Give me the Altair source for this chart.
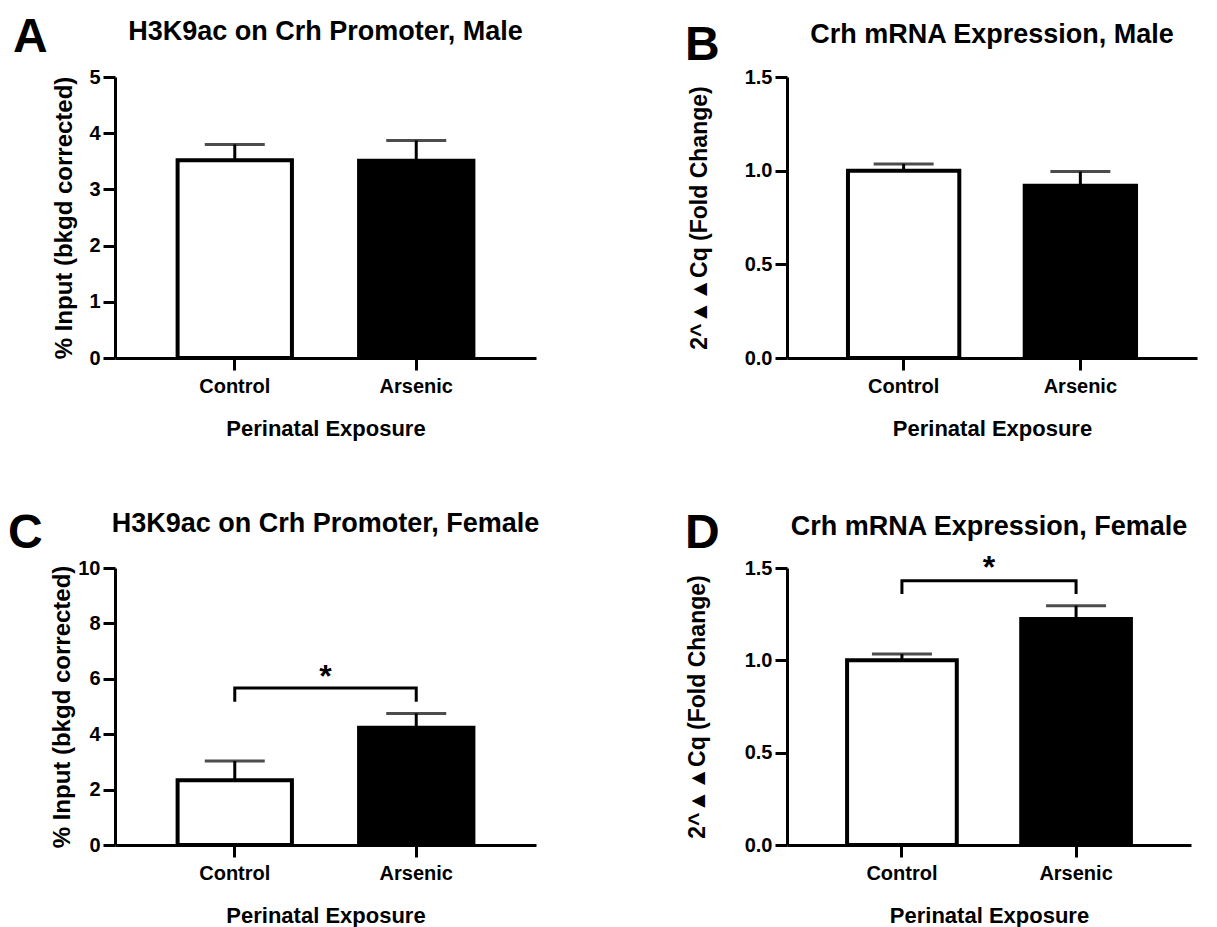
import altair as alt
import pandas as pd

# ---------------- data ----------------
categories = ["Control", "Arsenic"]
bar_fills = ["white", "black"]

a_mean = [3.52, 3.51]
a_err = [0.28, 0.36]
b_mean = [1.00, 0.92]
b_err = [0.036, 0.075]
c_mean = [2.34, 4.23]
c_err = [0.69, 0.52]
d_mean = [1.00, 1.224]
d_err = [0.034, 0.072]

# significance annotations: [leg bottom, bracket top], star level
c_bracket = [5.17, 5.67]
c_star = 6.25
d_bracket = [1.359, 1.431]
d_star = 1.527

a_ticks = [0, 1, 2, 3, 4, 5]
c_ticks = [0, 2, 4, 6, 8, 10]
bd_ticks = [0.0, 0.5, 1.0, 1.5]

panel_letters = ["A", "B", "C", "D"]
panel_titles = [
    "H3K9ac on Crh Promoter, Male",
    "Crh mRNA Expression, Male",
    "H3K9ac on Crh Promoter, Female",
    "Crh mRNA Expression, Female",
]
y_titles = [
    "% Input (bkgd corrected)",
    "2^▲▲Cq (Fold Change)",
    "% Input (bkgd corrected)",
    "2^▲▲Cq (Fold Change)",
]
x_title = "Perinatal Exposure"

FONT = "Liberation Sans"
P_IN, P_OUT = 0.37, 0.345


def panel(letter, title, ytitle, means, errs, ticks, fmt, w, h,
          letter_pos, title_dy, ytitle_x, ytitle_size, bracket=None, star=None):
    df = pd.DataFrame({
        "group": categories,
        "mean": means,
        "top": [m + e for m, e in zip(means, errs)],
        "fill": bar_fills,
    })
    xs = alt.Scale(domain=categories, paddingInner=P_IN, paddingOuter=P_OUT)
    xax = alt.Axis(title=x_title, labelAngle=0, tickSize=12,
                   labelPadding=6, titlePadding=22, titleFontSize=22)
    ys = alt.Scale(domain=[ticks[0], ticks[-1]], nice=False, zero=True)
    yax = alt.Axis(title=ytitle, values=ticks, format=fmt, tickSize=12,
                   labelPadding=3, titleX=ytitle_x, titleFontSize=ytitle_size)
    X = alt.X("group:N", scale=xs, axis=xax)

    def Y(field):
        return alt.Y(field, type="quantitative", scale=ys, axis=yax)

    base = alt.Chart(df)
    err = base.mark_rule(color="black", strokeWidth=3).encode(
        x=X, y=Y("mean"), y2="top")
    bars = base.mark_bar(stroke="black", strokeWidth=4).encode(
        x=X, y=Y("mean"), fill=alt.Fill("fill:N", scale=None))
    caps = base.mark_tick(color="black", size=60, thickness=3).encode(
        x=X, y=Y("top"))
    layers = [err, bars, caps]

    if bracket is not None:
        bdf = pd.DataFrame({
            "group": [categories[0], categories[0], categories[1], categories[1]],
            "level": [bracket[0], bracket[1], bracket[1], bracket[0]],
            "order": [0, 1, 2, 3],
        })
        layers.append(
            alt.Chart(bdf).mark_line(color="black", strokeWidth=3).encode(
                x=X, y=Y("level"), order="order:Q"))
    if star is not None:
        step = w / (2 - P_IN + 2 * P_OUT)
        sdf = pd.DataFrame({"group": [categories[0]], "level": [star], "t": ["*"]})
        layers.append(
            alt.Chart(sdf).mark_text(font=FONT, fontWeight="bold", fontSize=32,
                                     dx=step / 2, dy=5, baseline="middle",
                                     color="black").encode(
                x=X, y=Y("level"), text="t:N"))

    ldf = pd.DataFrame({"t": [letter]})
    layers.append(
        alt.Chart(ldf).mark_text(font=FONT, fontWeight="bold", fontSize=48,
                                 align="left", baseline="alphabetic",
                                 color="black").encode(
            x=alt.value(letter_pos[0]), y=alt.value(letter_pos[1]), text="t:N"))
    tdf = pd.DataFrame({"t": [title]})
    layers.append(
        alt.Chart(tdf).mark_text(font=FONT, fontWeight="bold", fontSize=27,
                                 align="center", baseline="alphabetic",
                                 color="black").encode(
            x=alt.value(w / 2), y=alt.value(title_dy), text="t:N"))
    return alt.layer(*layers).properties(width=w, height=h)


pA = panel(panel_letters[0], panel_titles[0], y_titles[0], a_mean, a_err, a_ticks, "d",
           421, 281, (-102, -25), -37, -39, 24)
pB = panel(panel_letters[1], panel_titles[1], y_titles[1], b_mean, b_err, bd_ticks, ".1f",
           410, 281, (-102, -17), -34, -76, 23)
pC = panel(panel_letters[2], panel_titles[2], y_titles[2], c_mean, c_err, c_ticks, "d",
           421, 277, (-107, -20), -36, -41, 24, bracket=c_bracket, star=c_star)
pD = panel(panel_letters[3], panel_titles[3], y_titles[3], d_mean, d_err, bd_ticks, ".1f",
           404, 277, (-102, -20), -33, -78, 23, bracket=d_bracket, star=d_star)

chart = alt.concat(
    pA, pB, pC, pD, columns=2,
    spacing=alt.RowColnumber(row=210, column=251),
    bounds="flush", align="all",
).properties(
    padding={"left": 0, "top": 6, "right": 5, "bottom": 5},
    background="white",
).configure_view(stroke=None).configure_axis(
    labelFont=FONT, labelFontWeight="bold", labelFontSize=20, labelColor="black",
    titleFont=FONT, titleFontWeight="bold", titleFontSize=22, titleColor="black",
    domainColor="black", domainWidth=3, tickColor="black", tickWidth=3, grid=False,
)

chart.save("out.html", embed_options={"renderer": "svg", "actions": False})
